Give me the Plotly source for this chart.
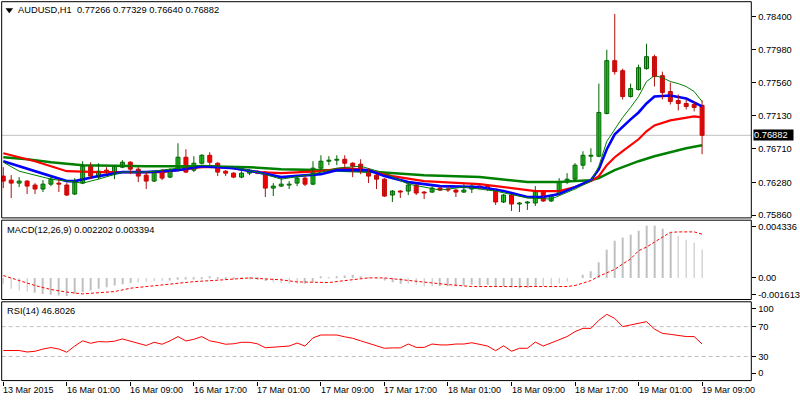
import plotly.graph_objects as go

# ---------------- data ----------------
bar_index = list(range(89))

opens = [0.76359, 0.76307, 0.76269, 0.76295, 0.76244, 0.76193, 0.76256, 0.76269, 0.76244, 0.76129,
         0.76269, 0.76486, 0.76346, 0.76435, 0.76410, 0.76473, 0.76537, 0.76448, 0.76371, 0.76295,
         0.76410, 0.76346, 0.76435, 0.76601, 0.76435, 0.76524, 0.76626, 0.76524, 0.76422, 0.76397,
         0.76346, 0.76397, 0.76422, 0.76410, 0.76205, 0.76231, 0.76244, 0.76269, 0.76333, 0.76256,
         0.76461, 0.76550, 0.76563, 0.76575, 0.76524, 0.76512, 0.76422, 0.76371, 0.76320, 0.76116,
         0.76167, 0.76167, 0.76244, 0.76154, 0.76154, 0.76205, 0.76193, 0.76180, 0.76154, 0.76193,
         0.76231, 0.76231, 0.76193, 0.76027, 0.76116, 0.76001, 0.76014, 0.76014, 0.76167, 0.76040,
         0.76129, 0.76282, 0.76320, 0.76499, 0.76614, 0.76614, 0.77162, 0.77839, 0.77711, 0.77379,
         0.77469, 0.77737, 0.77890, 0.77647, 0.77443, 0.77328, 0.77290, 0.77277, 0.77266]
highs = [0.76473, 0.76371, 0.76346, 0.76307, 0.76269, 0.76307, 0.76359, 0.76320, 0.76269, 0.76333,
         0.76550, 0.76537, 0.76524, 0.76473, 0.76499, 0.76563, 0.76550, 0.76473, 0.76410, 0.76422,
         0.76448, 0.76461, 0.76780, 0.76703, 0.76614, 0.76639, 0.76665, 0.76537, 0.76435, 0.76410,
         0.76422, 0.76448, 0.76435, 0.76422, 0.76269, 0.76333, 0.76295, 0.76359, 0.76359, 0.76550,
         0.76626, 0.76614, 0.76626, 0.76626, 0.76537, 0.76575, 0.76461, 0.76384, 0.76333, 0.76180,
         0.76180, 0.76282, 0.76256, 0.76167, 0.76231, 0.76231, 0.76231, 0.76193, 0.76256, 0.76256,
         0.76244, 0.76244, 0.76205, 0.76129, 0.76129, 0.76027, 0.76040, 0.76231, 0.76180, 0.76129,
         0.76333, 0.76397, 0.76524, 0.76678, 0.76716, 0.77545, 0.77979, 0.78438, 0.77737, 0.77545,
         0.77788, 0.78056, 0.77915, 0.77698, 0.77558, 0.77405, 0.77341, 0.77315, 0.77329]
lows = [0.76205, 0.76078, 0.76218, 0.76129, 0.76129, 0.76154, 0.76231, 0.76154, 0.76103, 0.76116,
        0.76256, 0.76320, 0.76320, 0.76384, 0.76320, 0.76461, 0.76384, 0.76282, 0.76193, 0.76282,
        0.76307, 0.76333, 0.76422, 0.76397, 0.76410, 0.76512, 0.76486, 0.76359, 0.76359, 0.76333,
        0.76333, 0.76371, 0.76384, 0.76091, 0.76103, 0.76218, 0.76193, 0.76231, 0.76231, 0.76244,
        0.76435, 0.76499, 0.76499, 0.76448, 0.76346, 0.76384, 0.76269, 0.76193, 0.76091, 0.76027,
        0.76078, 0.76116, 0.76116, 0.76065, 0.76142, 0.76167, 0.76154, 0.76091, 0.76142, 0.76142,
        0.76193, 0.76167, 0.75989, 0.76014, 0.75912, 0.75899, 0.75925, 0.75976, 0.76027, 0.76027,
        0.76116, 0.76256, 0.76295, 0.76448, 0.76537, 0.76601, 0.77150, 0.77660, 0.77341, 0.77366,
        0.77456, 0.77724, 0.77507, 0.77341, 0.77277, 0.77201, 0.77213, 0.77188, 0.76640]
closes = [0.76295, 0.76269, 0.76295, 0.76231, 0.76193, 0.76256, 0.76320, 0.76256, 0.76116, 0.76282,
          0.76486, 0.76359, 0.76422, 0.76422, 0.76486, 0.76537, 0.76448, 0.76359, 0.76295, 0.76410,
          0.76333, 0.76422, 0.76601, 0.76410, 0.76524, 0.76626, 0.76537, 0.76410, 0.76397, 0.76346,
          0.76397, 0.76422, 0.76397, 0.76205, 0.76231, 0.76256, 0.76256, 0.76333, 0.76256, 0.76461,
          0.76550, 0.76563, 0.76575, 0.76524, 0.76486, 0.76422, 0.76359, 0.76320, 0.76103, 0.76167,
          0.76154, 0.76244, 0.76142, 0.76142, 0.76205, 0.76180, 0.76180, 0.76154, 0.76180, 0.76231,
          0.76205, 0.76193, 0.76027, 0.76116, 0.76001, 0.76014, 0.76027, 0.76167, 0.76040, 0.76103,
          0.76282, 0.76320, 0.76499, 0.76626, 0.76626, 0.77175, 0.77839, 0.77698, 0.77379, 0.77481,
          0.77749, 0.77890, 0.77635, 0.77430, 0.77315, 0.77290, 0.77252, 0.77239, 0.76882]

# moving averages (sampled read-offs)
ma_slow_idx = [0, 3, 6, 10, 18, 25, 31, 35, 41, 47, 53, 60, 66, 70, 72, 74, 75, 76, 77, 78, 79, 80, 82, 84, 86, 88]
ma_slow_val = [0.76601, 0.76575, 0.76537, 0.76499, 0.76486, 0.76486, 0.76473, 0.76448, 0.76435, 0.76410,
               0.76371, 0.76346, 0.76282, 0.76282, 0.76295, 0.76307, 0.76333, 0.76384, 0.76435, 0.76473,
               0.76512, 0.76550, 0.76614, 0.76665, 0.76716, 0.76754]
ma_red_idx = [0, 4, 8, 12, 16, 20, 25, 27, 29, 32, 35, 40, 43, 46, 49, 53, 60, 64, 67, 70, 72, 74, 75, 76,
              77, 78, 79, 80, 81, 82, 84, 86, 87, 88]
ma_red_val = [0.76652, 0.76550, 0.76422, 0.76410, 0.76410, 0.76410, 0.76473, 0.76473, 0.76461, 0.76410,
              0.76397, 0.76422, 0.76461, 0.76435, 0.76359, 0.76295, 0.76256, 0.76205, 0.76167, 0.76167,
              0.76218, 0.76295, 0.76359, 0.76499, 0.76601, 0.76678, 0.76754, 0.76831, 0.76933, 0.77009,
              0.77073, 0.77111, 0.77124, 0.77111]
ma_blue_idx = [0, 2, 5, 8, 9, 12, 15, 18, 22, 25, 29, 32, 35, 40, 42, 46, 48, 51, 55, 60, 63, 66, 68, 70,
               72, 74, 75, 76, 77, 78, 79, 80, 81, 82, 84, 86, 87, 88]
ma_blue_val = [0.76550, 0.76486, 0.76384, 0.76295, 0.76295, 0.76359, 0.76410, 0.76410, 0.76435, 0.76486,
               0.76461, 0.76410, 0.76346, 0.76384, 0.76435, 0.76435, 0.76359, 0.76282, 0.76231, 0.76218,
               0.76167, 0.76091, 0.76091, 0.76129, 0.76218, 0.76307, 0.76448, 0.76703, 0.76894, 0.76996,
               0.77086, 0.77175, 0.77290, 0.77379, 0.77392, 0.77354, 0.77303, 0.77252]
ma_fast_idx = [0, 2, 6, 10, 12, 15, 18, 22, 25, 29, 32, 35, 39, 42, 45, 48, 51, 55, 58, 62, 66, 69, 71,
               72, 74, 75, 76, 77, 78, 79, 80, 81, 82, 83, 84, 85, 86, 87, 88]
ma_fast_val = [0.76537, 0.76422, 0.76320, 0.76269, 0.76320, 0.76410, 0.76410, 0.76461, 0.76499, 0.76473,
               0.76410, 0.76320, 0.76384, 0.76461, 0.76486, 0.76397, 0.76256, 0.76180, 0.76218, 0.76167,
               0.76078, 0.76065, 0.76154, 0.76193, 0.76295, 0.76486, 0.76805, 0.76958, 0.77111, 0.77239,
               0.77379, 0.77571, 0.77647, 0.77622, 0.77571, 0.77545, 0.77507, 0.77443, 0.77315]

macd_main = [-0.00046, -0.00085, -0.00098, -0.00106, -0.00116, -0.00124, -0.00131, -0.00137, -0.00141, -0.00124,
             -0.00110, -0.00098, -0.00085, -0.00072, -0.00059, -0.00049, -0.00039, -0.00033, -0.00029, -0.00025,
             -0.00023, -0.00021, -0.00015, -0.00013, -0.00013, -0.00010, 0.00008, -0.00008, -0.00008, -0.00008,
             -0.00010, -0.00010, -0.00015, -0.00025, -0.00033, -0.00041, -0.00046, -0.00046, -0.00046, -0.00033,
             0.00010, 0.00002, 0.00010, 0.00018, 0.00025, 0.00013, 0.00002, -0.00002, -0.00021, -0.00033,
             -0.00046, -0.00046, -0.00054, -0.00064, -0.00064, -0.00064, -0.00064, -0.00064, -0.00059, -0.00054,
             -0.00059, -0.00054, -0.00064, -0.00064, -0.00072, -0.00080, -0.00077, -0.00064, -0.00064, -0.00059,
             -0.00041, -0.00029, 0.00000, 0.00025, 0.00052, 0.00121, 0.00218, 0.00288, 0.00314, 0.00334,
             0.00365, 0.00404, 0.00404, 0.00381, 0.00353, 0.00327, 0.00296, 0.00273, 0.002202]
signal_idx = [0, 2, 4, 6, 8, 10, 12, 14, 16, 18, 20, 22, 24, 27, 29, 31, 33, 35, 37, 39, 41, 43, 44, 46,
              48, 50, 52, 54, 56, 59, 63, 65, 67, 71, 72, 73, 74, 75, 76, 77, 78, 79, 80, 81, 82, 83, 84,
              85, 86, 87, 88]
signal_val = [0.00018, -0.00021, -0.00059, -0.00090, -0.00110, -0.00124, -0.00116, -0.00106, -0.00080, -0.00067,
              -0.00054, -0.00041, -0.00029, -0.00018, -0.00008, 0.00000, -0.00008, -0.00015, -0.00031, -0.00036,
              -0.00036, -0.00021, -0.00013, 0.00000, 0.00000, -0.00013, -0.00029, -0.00039, -0.00052, -0.00067,
              -0.00067, -0.00072, -0.00072, -0.00067, -0.00059, -0.00041, -0.00021, 0.00013, 0.00039, 0.00066,
              0.00108, 0.00147, 0.00211, 0.00239, 0.00278, 0.00314, 0.00353, 0.00357, 0.00357, 0.00357, 0.003394]

rsi = [38, 38, 38, 36, 37, 40, 42, 40, 35.7, 44, 51, 47.7, 50, 49.5, 50.5, 53.5, 50.5, 47, 44.7, 49,
       46.4, 51, 56.7, 50.8, 53, 56.7, 51, 49, 46.4, 47, 49, 49, 47, 41.7, 42.7, 42.7, 44, 48, 44, 55,
       58.8, 58.8, 58.8, 56.4, 54.4, 51, 47.5, 44.5, 41, 41.5, 41.5, 46.7, 42.2, 42.2, 46.7, 45.5, 45.5, 46.7,
       46.7, 48.4, 46.5, 44, 37.7, 44.4, 37, 41, 41, 49.3, 44, 48.4, 52.1, 56.7, 63.3, 67.7, 67.7, 78.5,
       86.5, 81, 70, 72, 74.4, 76.7, 66.8, 61, 59.7, 58, 56.7, 56.7, 46.8026]

time_tick_index = [0, 8, 16, 24, 32, 40, 48, 56, 64, 72, 80, 88]
time_tick_labels = ["13 Mar 2015", "16 Mar 01:00", "16 Mar 09:00", "16 Mar 17:00", "17 Mar 01:00",
                    "17 Mar 09:00", "17 Mar 17:00", "18 Mar 01:00", "18 Mar 09:00", "18 Mar 17:00",
                    "19 Mar 01:00", "19 Mar 09:00"]
price_ticks = [0.78400, 0.77980, 0.77560, 0.77130, 0.76710, 0.76280, 0.75860]
last_price = 0.76882
macd_tick_pos = [0.00396, 0.0, -0.00129]
macd_tick_text = ["0.004336", "0.00", "-0.001613"]
rsi_tick_pos = [94.4, 70, 30, 7.7]
rsi_tick_text = ["100", "70", "30", "0"]
rsi_levels = [70, 30]

title_main = "AUDUSD,H1\u00a0\u00a00.77266 0.77329 0.76640 0.76882"
title_macd = "MACD(12,26,9) 0.002202 0.003394"
title_rsi = "RSI(14) 46.8026"

# ---------------- figure ----------------
FONT = "Liberation Sans"
fig = go.Figure()

# moving averages
fig.add_trace(go.Scatter(x=ma_slow_idx, y=ma_slow_val, mode="lines", line=dict(color="#008000", width=2.5),
                         xaxis="x", yaxis="y", hoverinfo="skip"))
fig.add_trace(go.Scatter(x=ma_red_idx, y=ma_red_val, mode="lines", line=dict(color="#FF0000", width=2.2),
                         xaxis="x", yaxis="y", hoverinfo="skip"))
fig.add_trace(go.Scatter(x=ma_blue_idx, y=ma_blue_val, mode="lines", line=dict(color="#0000FF", width=2.6),
                         xaxis="x", yaxis="y", hoverinfo="skip"))
fig.add_trace(go.Scatter(x=ma_fast_idx, y=ma_fast_val, mode="lines", line=dict(color="#008000", width=1),
                         xaxis="x", yaxis="y", hoverinfo="skip"))

# candles: wicks + bodies
up = [c >= o for o, c in zip(opens, closes)]
for is_up, wick_col, body_col, edge_col in [(True, "#006400", "#32CD32", "#006400"),
                                            (False, "#B01010", "#FF0000", "#D00000")]:
    wx, wy, bx, bbase, bh = [], [], [], [], []
    for i, o, h, l, c, u in zip(bar_index, opens, highs, lows, closes, up):
        if u != is_up:
            continue
        wx += [i, i, None]
        wy += [l, h, None]
        bx.append(i)
        bbase.append(min(o, c))
        bh.append(abs(c - o))
    fig.add_trace(go.Scatter(x=wx, y=wy, mode="lines", line=dict(color=wick_col, width=1),
                             xaxis="x", yaxis="y", hoverinfo="skip"))
    fig.add_trace(go.Bar(x=bx, y=bh, base=bbase, width=0.5, marker=dict(color=body_col,
                         line=dict(color=edge_col, width=1)), xaxis="x", yaxis="y", hoverinfo="skip"))

# MACD
fig.add_trace(go.Bar(x=bar_index, y=macd_main, width=0.1, marker=dict(color="#C0C0C0", line=dict(width=0)),
                     xaxis="x2", yaxis="y2", hoverinfo="skip"))
fig.add_trace(go.Scatter(x=signal_idx, y=signal_val, mode="lines",
                         line=dict(color="#FF0000", width=1, dash="3px,2px"),
                         xaxis="x2", yaxis="y2", hoverinfo="skip"))

# RSI
fig.add_trace(go.Scatter(x=bar_index, y=rsi, mode="lines", line=dict(color="#FF0000", width=1),
                         xaxis="x3", yaxis="y3", hoverinfo="skip"))

XDOM = [1.7 / 800, 757 / 800]
XR = [-0.2, 94.2]
ax_common = dict(domain=XDOM, range=XR, showgrid=False, zeroline=False, showline=False, fixedrange=True)
tickfont = dict(family=FONT, size=9.3, color="black")

def py(p):
    return 1 - p / 400.0

fig.update_layout(
    width=800, height=400, margin=dict(l=0, r=0, t=0, b=0),
    paper_bgcolor="white", plot_bgcolor="white", showlegend=False, barmode="overlay",
    xaxis=dict(anchor="y", showticklabels=False, ticks="", **ax_common),
    xaxis2=dict(anchor="y2", showticklabels=False, ticks="", **ax_common),
    xaxis3=dict(anchor="y3", showticklabels=False, ticks="outside", ticklen=4, tickwidth=1,
                tickcolor="black", tickvals=time_tick_index, **ax_common),
    yaxis=dict(domain=[py(219), py(1.7)], range=[0.75823, 0.78595], side="right", anchor="x",
               tickvals=price_ticks, ticktext=["%.5f" % v for v in price_ticks], ticks="outside",
               ticklen=4, tickcolor="black", tickfont=tickfont, showgrid=False, zeroline=False,
               showline=False, fixedrange=True),
    yaxis2=dict(domain=[py(301), py(221.3)], range=[-0.0016752, 0.0044776], side="right", anchor="x2",
                tickvals=macd_tick_pos, ticktext=macd_tick_text, ticks="outside", ticklen=4,
                tickcolor="black", tickfont=tickfont, showgrid=False, zeroline=False, showline=False,
                fixedrange=True),
    yaxis3=dict(domain=[py(382.5), py(303.3)], range=[-2.3, 103.3], side="right", anchor="x3",
                tickvals=rsi_tick_pos, ticktext=rsi_tick_text, ticks="outside", ticklen=4,
                tickcolor="black", tickfont=tickfont, showgrid=False, zeroline=False, showline=False,
                fixedrange=True),
)

shapes = []
# current price line
shapes.append(dict(type="line", xref="x domain", yref="y", x0=0, x1=1, y0=last_price, y1=last_price,
                   line=dict(color="#C0C0C0", width=1), layer="below"))
# RSI levels
for lv in rsi_levels:
    shapes.append(dict(type="line", xref="x3 domain", yref="y3", x0=0, x1=1, y0=lv, y1=lv,
                       line=dict(color="#C0C0C0", width=1, dash="4px,3px"), layer="below"))
# panel frames
for xa, ya in [("x", "y"), ("x2", "y2"), ("x3", "y3")]:
    shapes.append(dict(type="rect", xref=xa + " domain", yref=ya + " domain", x0=0, x1=1, y0=0, y1=1,
                       line=dict(color="black", width=1), fillcolor="rgba(0,0,0,0)", layer="above"))
# small triangle before the symbol title
shapes.append(dict(type="path", xref="paper", yref="paper",
                   path="M 0.0075 %.5f L 0.0159 %.5f L 0.0117 %.5f Z" % (py(8.5), py(8.5), py(13)),
                   fillcolor="black", line=dict(color="black", width=0.5)))
fig.update_layout(shapes=shapes)

ann = []
ann.append(dict(text=title_main, xref="paper", yref="paper", x=18 / 800, y=py(10.5), xanchor="left",
                yanchor="middle", showarrow=False, xshift=-2, font=dict(family=FONT, size=9.3, color="black")))
ann.append(dict(text=title_macd, xref="paper", yref="paper", x=7 / 800, y=py(230.7), xanchor="left",
                yanchor="middle", showarrow=False, xshift=-2, font=dict(family=FONT, size=9.3, color="black")))
ann.append(dict(text=title_rsi, xref="paper", yref="paper", x=7 / 800, y=py(312.7), xanchor="left",
                yanchor="middle", showarrow=False, xshift=-2, font=dict(family=FONT, size=9.3, color="black")))
for ti, tl in zip(time_tick_index, time_tick_labels):
    ann.append(dict(text=tl, xref="x3", yref="paper", x=ti, y=py(391.5), xanchor="left", yanchor="middle",
                    showarrow=False, xshift=-2, font=dict(family=FONT, size=9, color="black")))
# current price tag
ann.append(dict(text="%.5f" % last_price, xref="paper", yref="y", x=759 / 800, y=last_price, xanchor="left",
                yanchor="middle", showarrow=False, bgcolor="black", borderpad=0, width=39, height=10,
                align="left", font=dict(family=FONT, size=9.3, color="white")))
fig.update_layout(annotations=ann)

fig.write_html("out.html")
